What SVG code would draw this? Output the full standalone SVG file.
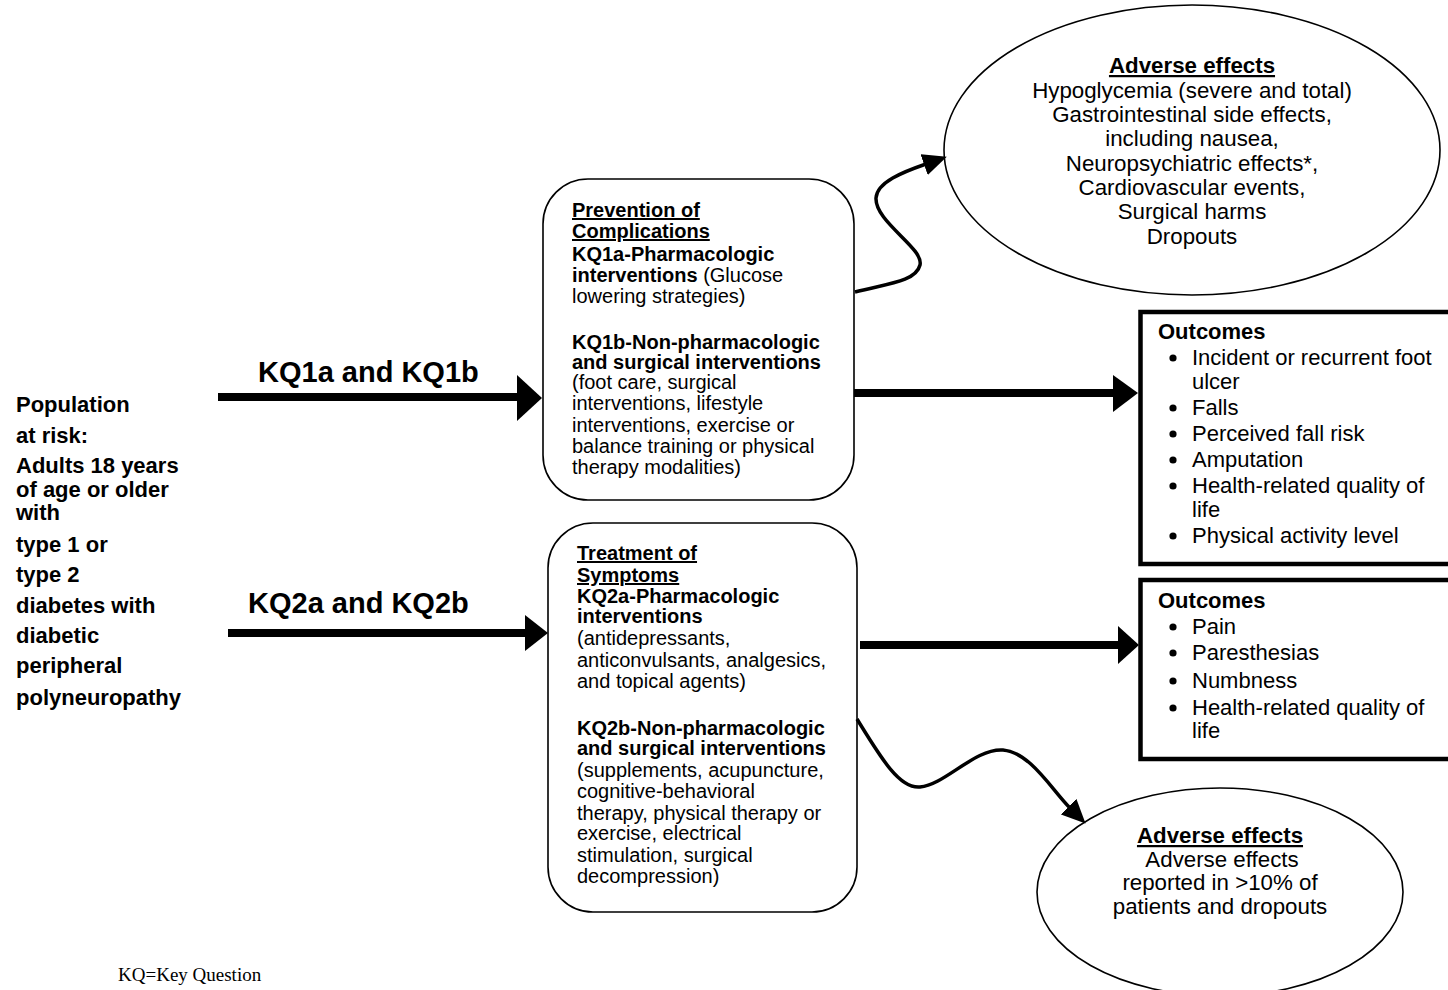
<svg xmlns="http://www.w3.org/2000/svg" width="1448" height="990" viewBox="0 0 1448 990">
<defs>
<style>
text{font-family:"Liberation Sans",Arial,Helvetica,sans-serif;fill:#000}
.b{font-weight:bold}
.u{text-decoration:underline}
.f20{font-size:20px}
.f22{font-size:22px}
.ft{font-size:22.3px}
.kq{font-size:29px;font-weight:bold}
.box{fill:#fff;stroke:#000;stroke-width:1.6}
.obox{fill:#fff;stroke:#000;stroke-width:4.5}
.ell{fill:#fff;stroke:#000;stroke-width:1.6}
.thick{stroke:#000;stroke-width:8;fill:none}
.curve{stroke:#000;stroke-width:3.5;fill:none}
.head{fill:#000}
.note{font-family:"Liberation Serif","Times New Roman",serif;font-size:19px}
</style>
<marker id="ah" markerUnits="userSpaceOnUse" markerWidth="24" markerHeight="22" viewBox="0 0 24 22" refX="2" refY="11" orient="auto">
<path d="M0,0 L24,11 L0,22 z" fill="#000"/>
</marker>
</defs>
<rect width="1448" height="990" fill="#fff"/>

<g id="population">
<text class="b f22" x="16" y="412">Population</text>
<text class="b f22" x="16" y="443">at risk:</text>
<text class="b f22" x="16" y="473">Adults 18 years</text>
<text class="b f22" x="16" y="497">of age or older</text>
<text class="b f22" x="16" y="520">with</text>
<text class="b f22" x="16" y="552">type 1 or</text>
<text class="b f22" x="16" y="582">type 2</text>
<text class="b f22" x="16" y="613">diabetes with</text>
<text class="b f22" x="16" y="643">diabetic</text>
<text class="b f22" x="16" y="673">peripheral</text>
<text class="b f22" x="16" y="705">polyneuropathy</text>
</g>

<g id="kq1-label"><text class="kq" x="258" y="382">KQ1a and KQ1b</text></g>
<g id="kq2-label"><text class="kq" x="248" y="613">KQ2a and KQ2b</text></g>

<g id="prevention">
<rect class="box" x="543" y="179" width="311" height="321" rx="45" ry="45"/>
<text class="f20 b u" x="572" y="217">Prevention of</text>
<text class="f20 b u" x="572" y="238">Complications</text>
<text class="f20 b" x="572" y="261">KQ1a-Pharmacologic</text>
<text class="f20" x="572" y="282"><tspan class="b">interventions</tspan> (Glucose</text>
<text class="f20" x="572" y="303">lowering strategies)</text>
<text class="f20 b" x="572" y="349">KQ1b-Non-pharmacologic</text>
<text class="f20 b" x="572" y="369">and surgical interventions</text>
<text class="f20" x="572" y="389">(foot care, surgical</text>
<text class="f20" x="572" y="410">interventions, lifestyle</text>
<text class="f20" x="572" y="432">interventions, exercise or</text>
<text class="f20" x="572" y="453">balance training or physical</text>
<text class="f20" x="572" y="474">therapy modalities)</text>
</g>

<g id="treatment">
<rect class="box" x="548" y="523" width="309" height="389" rx="45" ry="45"/>
<text class="f20 b u" x="577" y="560">Treatment of</text>
<text class="f20 b u" x="577" y="582">Symptoms</text>
<text class="f20 b" x="577" y="603">KQ2a-Pharmacologic</text>
<text class="f20 b" x="577" y="623">interventions</text>
<text class="f20" x="577" y="645">(antidepressants,</text>
<text class="f20" x="577" y="667">anticonvulsants, analgesics,</text>
<text class="f20" x="577" y="688">and topical agents)</text>
<text class="f20 b" x="577" y="735">KQ2b-Non-pharmacologic</text>
<text class="f20 b" x="577" y="755">and surgical interventions</text>
<text class="f20" x="577" y="777">(supplements, acupuncture,</text>
<text class="f20" x="577" y="798">cognitive-behavioral</text>
<text class="f20" x="577" y="820">therapy, physical therapy or</text>
<text class="f20" x="577" y="840">exercise, electrical</text>
<text class="f20" x="577" y="862">stimulation, surgical</text>
<text class="f20" x="577" y="883">decompression)</text>
</g>

<g id="adverse-top">
<ellipse class="ell" cx="1192" cy="150" rx="248" ry="145"/>
<text class="ft b u" x="1192" y="73" text-anchor="middle">Adverse effects</text>
<text class="ft" x="1192" y="97.5" text-anchor="middle">Hypoglycemia (severe and total)</text>
<text class="ft" x="1192" y="122" text-anchor="middle">Gastrointestinal side effects,</text>
<text class="ft" x="1192" y="146" text-anchor="middle">including nausea,</text>
<text class="ft" x="1192" y="170.5" text-anchor="middle">Neuropsychiatric effects*,</text>
<text class="ft" x="1192" y="195" text-anchor="middle">Cardiovascular events,</text>
<text class="ft" x="1192" y="219" text-anchor="middle">Surgical harms</text>
<text class="ft" x="1192" y="243.5" text-anchor="middle">Dropouts</text>
</g>

<g id="outcomes-1">
<rect class="obox" x="1140.5" y="312" width="330" height="252"/>
<text class="f22 b" x="1158" y="339">Outcomes</text>
<circle cx="1173" cy="358" r="3.6"/>
<text class="f22" x="1192" y="365">Incident or recurrent foot</text>
<text class="f22" x="1192" y="389">ulcer</text>
<circle cx="1173" cy="408" r="3.6"/>
<text class="f22" x="1192" y="415">Falls</text>
<circle cx="1173" cy="434" r="3.6"/>
<text class="f22" x="1192" y="441">Perceived fall risk</text>
<circle cx="1173" cy="460" r="3.6"/>
<text class="f22" x="1192" y="467">Amputation</text>
<circle cx="1173" cy="486" r="3.6"/>
<text class="f22" x="1192" y="493">Health-related quality of</text>
<text class="f22" x="1192" y="517">life</text>
<circle cx="1173" cy="536" r="3.6"/>
<text class="f22" x="1192" y="543">Physical activity level</text>
</g>

<g id="outcomes-2">
<rect class="obox" x="1140.5" y="580" width="330" height="179"/>
<text class="f22 b" x="1158" y="608">Outcomes</text>
<circle cx="1173" cy="627" r="3.6"/>
<text class="f22" x="1192" y="634">Pain</text>
<circle cx="1173" cy="653" r="3.6"/>
<text class="f22" x="1192" y="660">Paresthesias</text>
<circle cx="1173" cy="681" r="3.6"/>
<text class="f22" x="1192" y="688">Numbness</text>
<circle cx="1173" cy="708" r="3.6"/>
<text class="f22" x="1192" y="715">Health-related quality of</text>
<text class="f22" x="1192" y="738">life</text>
</g>

<g id="adverse-bottom">
<ellipse class="ell" cx="1220" cy="892" rx="183" ry="104"/>
<text class="ft b u" x="1220" y="843" text-anchor="middle">Adverse effects</text>
<text class="ft" x="1222" y="867" text-anchor="middle">Adverse effects</text>
<text class="ft" x="1220" y="890" text-anchor="middle">reported in &gt;10% of</text>
<text class="ft" x="1220" y="914" text-anchor="middle">patients and dropouts</text>
</g>

<g id="connectors">
<line class="thick" x1="218" y1="397" x2="519" y2="397"/>
<polygon class="head" points="517,375 542,398 517,421"/>
<line class="thick" x1="228" y1="633" x2="527" y2="633"/>
<polygon class="head" points="525,615 548,633 525,651"/>
<line class="thick" x1="854" y1="393" x2="1115" y2="393"/>
<polygon class="head" points="1113,375 1138,393 1113,412"/>
<line class="thick" x1="860" y1="645" x2="1120" y2="645"/>
<polygon class="head" points="1118,626 1139,645 1118,664"/>
<path class="curve" d="M855,292 C885,284 916,282 920,265 C924,248 875,222 876,198 C877,182 903,172 926,164" marker-end="url(#ah)"/>
<path class="curve" d="M857,719 C882,760 900,789 920,787 C945,785 975,748 1003,750 C1030,752 1052,790 1070,808" marker-end="url(#ah)"/>
</g>

<g id="footnote"><text class="note" x="118" y="981">KQ=Key Question</text></g>
</svg>
